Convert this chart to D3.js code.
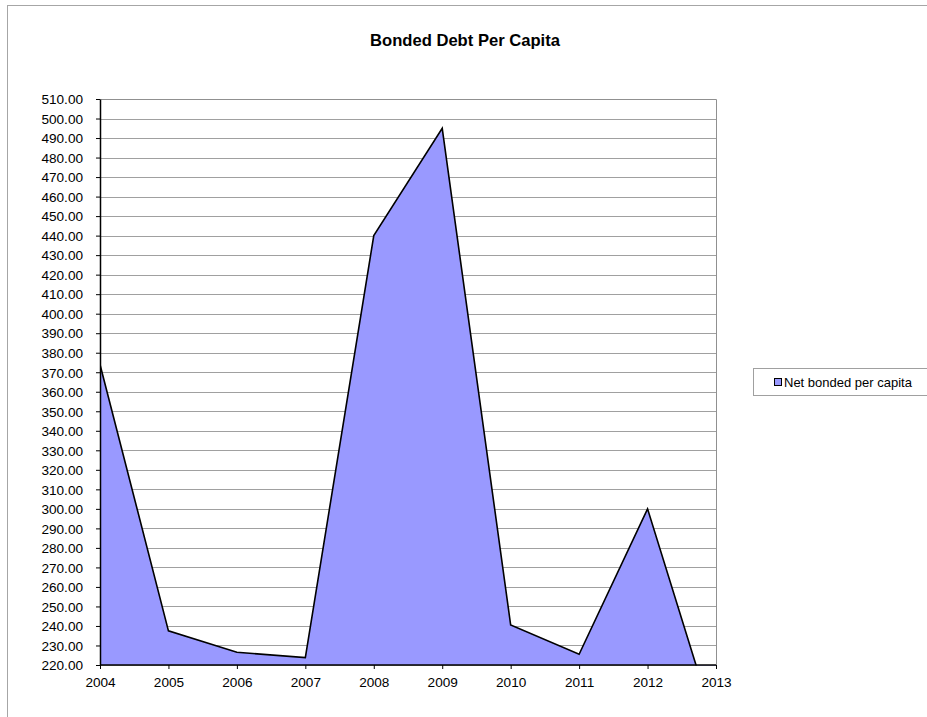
<!DOCTYPE html>
<html>
<head>
<meta charset="utf-8">
<script src="https://cdn.jsdelivr.net/npm/d3@7"></script>
<style>
  html, body { margin: 0; padding: 0; background: #fff; }
  svg { display: block; font-family: "Liberation Sans", Arial, sans-serif; }
</style>
</head>
<body>
<svg id="chart" width="927" height="717"></svg>
<script>
// Net bonded debt per capita by year
const years = ["2004", "2005", "2006", "2007", "2008", "2009", "2010", "2011", "2012", "2013"];
const netBonded = [374, 237.5, 226.5, 223.8, 440, 495, 240.5, 225.5, 300, 187];
const yTicks = d3.range(220, 511, 10);
const seriesName = "Net bonded per capita";
const chartTitle = "Bonded Debt Per Capita";

const svg = d3.select("#chart");
const W = 927, H = 717;
const plot = { left: 100, right: 716, top: 99, bottom: 665 };
const font = "Liberation Sans, Arial, sans-serif";

// Outer chart frame
svg.append("rect")
  .attr("x", 7.5).attr("y", 5.5)
  .attr("width", W + 10).attr("height", H + 10)
  .attr("fill", "#fff").attr("stroke", "#a6a6a6").attr("stroke-width", 1);

svg.append("text")
  .attr("x", 465).attr("y", 46)
  .attr("text-anchor", "middle")
  .attr("font-size", 16.6).attr("font-weight", "bold")
  .text(chartTitle);

const x = d3.scalePoint().domain(years).range([plot.left, plot.right]);
const y = d3.scaleLinear().domain([220, 510]).range([plot.bottom, plot.top]);

// Gridlines
svg.append("g")
  .selectAll("line")
  .data(yTicks)
  .join("line")
  .attr("x1", plot.left).attr("x2", plot.right)
  .attr("y1", d => Math.round(y(d)) + 0.5).attr("y2", d => Math.round(y(d)) + 0.5)
  .attr("stroke", "#a0a0a0").attr("stroke-width", 1);

// Plot frame (top/right)
svg.append("path")
  .attr("d", `M${plot.left},${plot.top + 0.5}H${plot.right + 0.5}V${plot.bottom}`)
  .attr("fill", "none").attr("stroke", "#909090");

// Area, clipped to plot region
svg.append("clipPath").attr("id", "plotClip")
  .append("rect")
  .attr("x", plot.left).attr("y", plot.top)
  .attr("width", plot.right - plot.left + 1).attr("height", plot.bottom - plot.top + 0.5);

const rows = years.map((yr, i) => ({ yr, v: netBonded[i] }));
const area = d3.area().x(d => x(d.yr)).y0(plot.bottom).y1(d => y(d.v));
const line = d3.line().x(d => x(d.yr)).y(d => y(d.v));

const g = svg.append("g").attr("clip-path", "url(#plotClip)");
g.append("path").datum(rows).attr("d", area).attr("fill", "#9999ff");
g.append("path").datum(rows).attr("d", line)
  .attr("fill", "none").attr("stroke", "#000").attr("stroke-width", 1.6)
  .attr("stroke-linejoin", "miter");

// Clipped segment running along the floor
svg.append("line")
  .attr("x1", plot.left).attr("x2", plot.right)
  .attr("y1", plot.bottom).attr("y2", plot.bottom)
  .attr("stroke", "#000").attr("stroke-width", 1.6);

// Axes
const yAxis = d3.axisLeft(y).tickValues(yTicks).tickSize(4).tickSizeOuter(0)
  .tickFormat(d3.format(".2f"));
const yG = svg.append("g").attr("transform", `translate(${plot.left},0)`).call(yAxis);
yG.select(".domain").attr("stroke", "#000").attr("stroke-width", 1.5);
yG.selectAll(".tick line").attr("stroke", "#000");
yG.selectAll("text").attr("font-size", 13.6).attr("fill", "#000")
  .attr("font-family", font).attr("x", -17).attr("dy", "0.35em");

const xAxis = d3.axisBottom(x).tickSize(4).tickSizeOuter(0);
const xG = svg.append("g").attr("transform", `translate(0,${plot.bottom})`).call(xAxis);
xG.select(".domain").remove();
xG.selectAll(".tick line").attr("stroke", "#000");
xG.selectAll("text").attr("font-size", 13.6).attr("fill", "#000")
  .attr("font-family", font).attr("y", 22).attr("dy", 0);

// Legend
const lg = svg.append("g");
lg.append("rect")
  .attr("x", 753.5).attr("y", 368.5).attr("width", 200).attr("height", 27)
  .attr("fill", "#fff").attr("stroke", "#a0a0a0");
lg.append("rect")
  .attr("x", 774.5).attr("y", 378.5).attr("width", 7).attr("height", 7)
  .attr("fill", "#9999ff").attr("stroke", "#000");
lg.append("text")
  .attr("x", 784).attr("y", 386.5)
  .attr("font-size", 13).attr("fill", "#000")
  .text(seriesName);
</script>
</body>
</html>
